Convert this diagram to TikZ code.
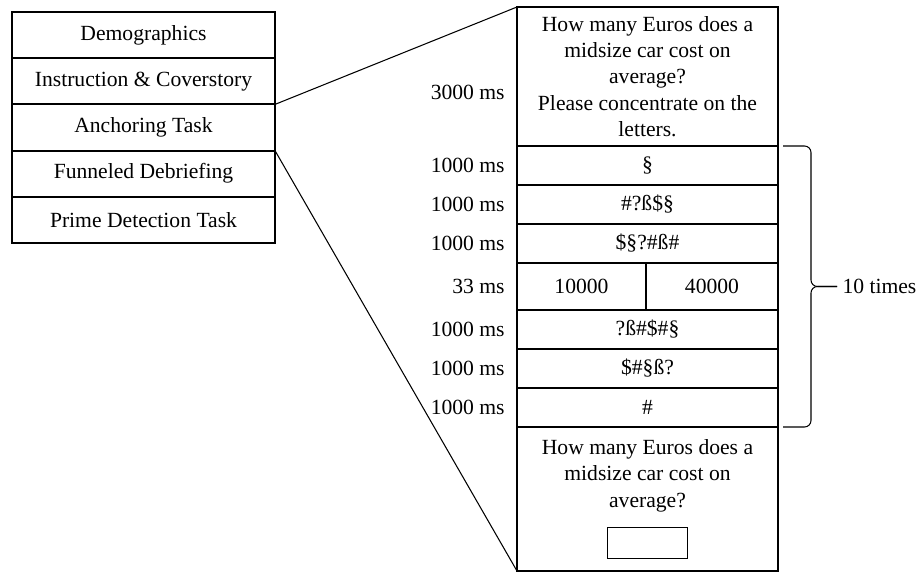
\documentclass[tikz,border=0pt]{standalone}
\usepackage{fontspec}
\setmainfont{Liberation Serif}
\usetikzlibrary{positioning}

\begin{document}
\begin{tikzpicture}[
    font=\fontsize{12.3}{15}\selectfont,
    stage/.style={rectangle, draw, line width=1.2pt, outer sep=0pt, inner sep=0pt, minimum width=5.26cm, minimum height=0.924cm, anchor=north},
    screen/.style={rectangle, draw, line width=1.2pt, outer sep=0pt, inner sep=0pt, minimum width=5.22cm, minimum height=#1, align=center},
    dur/.style={left=0.24cm of #1, inner sep=0pt},
    zoomline/.style={line width=0.6pt},
    bracket/.style={line width=0.6pt, rounded corners=0.13cm}
]
\useasboundingbox (0,0) rectangle (18.38,-11.44);

% Procedure (left column)
\node[stage] (demo) at (2.87,-0.24) {Demographics};
\node[stage, below=0pt of demo] (instr) {Instruction \& Coverstory};
\node[stage, below=0pt of instr] (anchor) {Anchoring Task};
\node[stage, below=0pt of anchor] (debrief) {Funneled Debriefing};
\node[stage, below=0pt of debrief] (prime) {Prime Detection Task};

% Anchoring trial (right column)
\node[screen=2.78cm, anchor=north] (question) at (12.95,-0.14) {How many Euros does a\\midsize car cost on\\average?\\Please concentrate on the\\letters.};
\node[screen=0.78cm, below=0pt of question] (s1) {§};
\node[screen=0.78cm, below=0pt of s1] (s2) {\#?ß\$§};
\node[screen=0.78cm, below=0pt of s2] (s3) {\$§?\#ß\#};
\node[screen=0.94cm, minimum width=2.58cm, anchor=north west] (primelow) at (s3.south west) {10000};
\node[screen=0.94cm, minimum width=2.64cm, anchor=north west] (primehigh) at (primelow.north east) {40000};
\node[screen=0.78cm, anchor=north west] (s4) at (primelow.south west) {?ß\#\$\#§};
\node[screen=0.78cm, below=0pt of s4] (s5) {\$\#§ß?};
\node[screen=0.78cm, below=0pt of s5] (s6) {\#};
\node[screen=2.88cm, below=0pt of s6] (answer) {};
\node[anchor=north, align=center, inner sep=0pt] (answertext) at ([yshift=-0.24cm]answer.north) {How many Euros does a\\midsize car cost on\\average?};
\node[draw, line width=0.6pt, minimum width=1.6cm, minimum height=0.62cm, inner sep=0pt, anchor=south] (field) at ([yshift=0.24cm]answer.south) {};

% Durations
\node[dur=question, yshift=-0.32cm] (t0) {3000 ms};
\foreach \r in {s1,s2,s3,s4,s5,s6}
  \node[dur=\r] (t-\r) {1000 ms};
\node[dur=primelow] (t-prime) {33 ms};

% Zoom lines
\draw[zoomline] (anchor.north east) -- (question.north west);
\draw[zoomline] (anchor.south east) -- (answer.south west);

% Repetition brace
\draw[bracket] ([xshift=0.1cm]s1.north east) -- ([xshift=0.66cm]s1.north east) -- ([xshift=0.66cm]primehigh.east) -- ([xshift=1.18cm]primehigh.east) node[right=0.1cm, inner sep=0pt] (times) {10 times};
\draw[bracket] ([xshift=0.1cm]s6.south east) -- ([xshift=0.66cm]s6.south east) -- ([xshift=0.66cm]primehigh.east) -- ([xshift=1.18cm]primehigh.east);

\end{tikzpicture}
\end{document}
